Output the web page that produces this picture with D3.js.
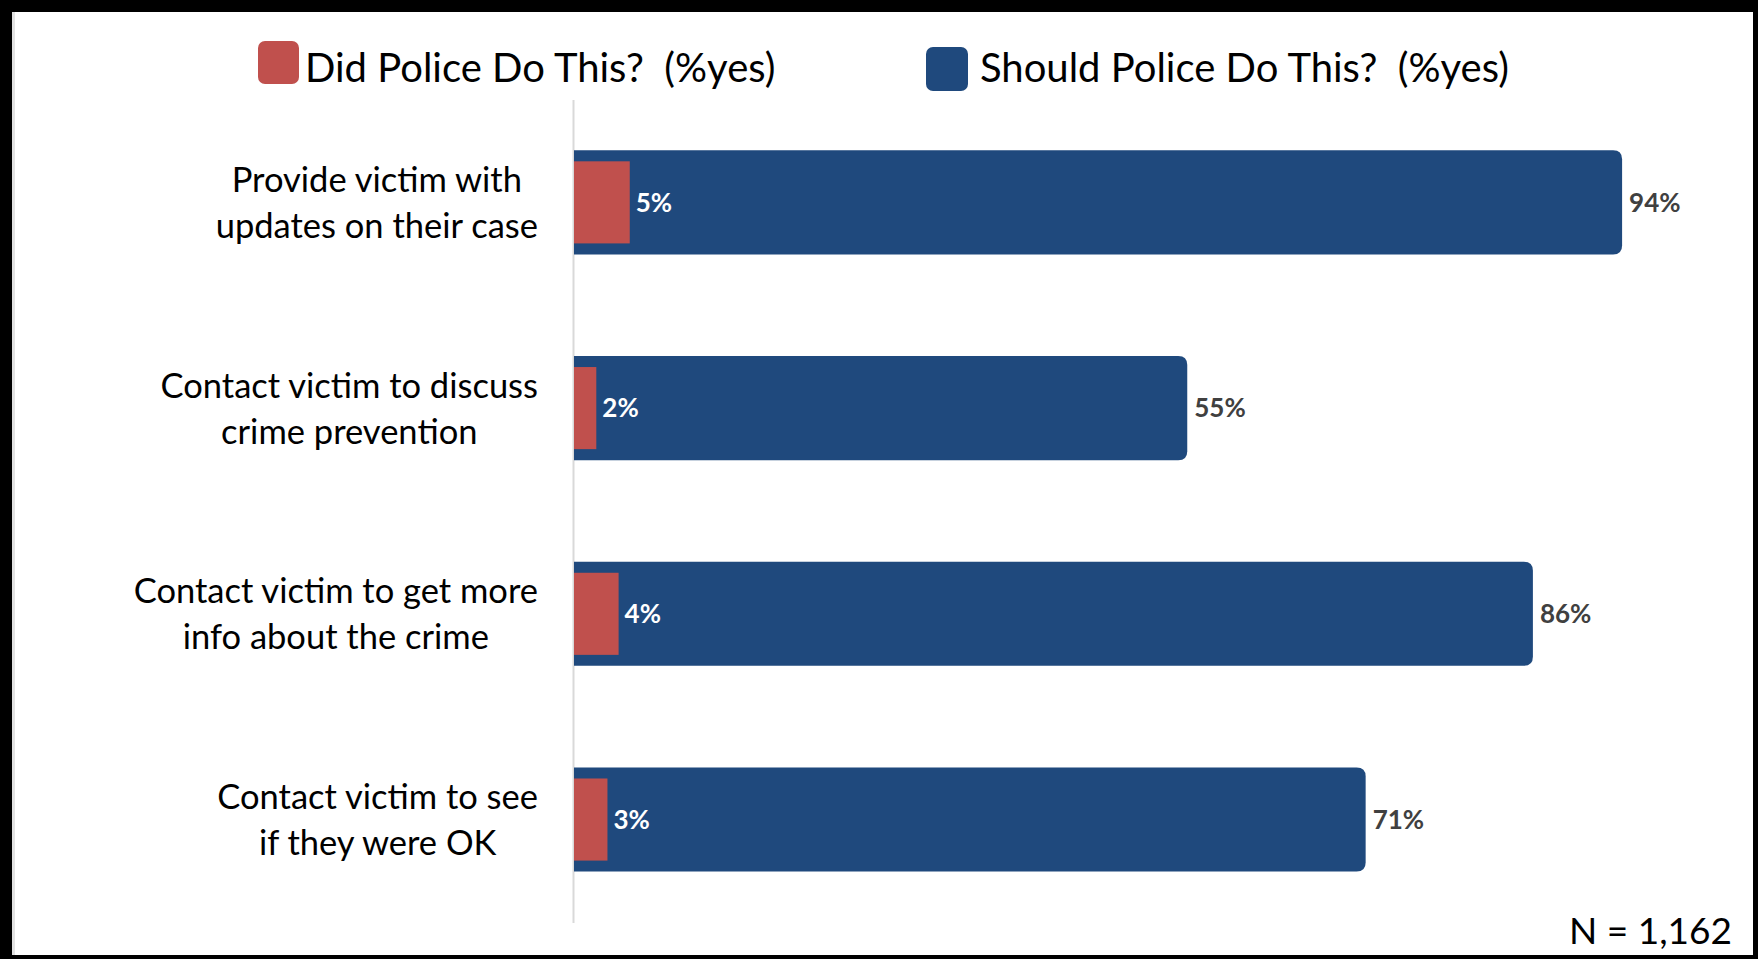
<!DOCTYPE html>
<html>
<head>
<meta charset="utf-8">
<script src="https://cdn.jsdelivr.net/npm/d3@7"></script>
<style>
  html, body { margin: 0; padding: 0; background: #000; }
  svg { display: block; }
  text { font-family: Lato, "Open Sans", sans-serif; white-space: pre; }
</style>
</head>
<body>
<svg id="chart" width="1758" height="959"></svg>
<script>
// Survey items (each label split into its two display lines)
const categories = [
  ["Provide victim with", "updates on their case"],
  ["Contact victim to discuss", "crime prevention"],
  ["Contact victim to get more", "info about the crime"],
  ["Contact victim to see", "if they were OK"]
];
const didValues = [5, 2, 4, 3];          // Did Police Do This? (%yes)
const shouldValues = [94, 55, 86, 71];   // Should Police Do This? (%yes)
const seriesNames = ["Did Police Do This?  (%yes)", "Should Police Do This?  (%yes)"];
const sampleNote = "N = 1,162";

const colors = { did: "#C0504D", should: "#1F497D" };

const svg = d3.select("#chart");
const W = 1758, H = 959;

// black frame with white panel
svg.append("rect").attr("width", W).attr("height", H).attr("fill", "#000");
svg.append("rect").attr("x", 12).attr("y", 12).attr("width", 1741).attr("height", 943)
  .attr("fill", "#fff");
svg.append("rect").attr("x", 12).attr("y", 12).attr("width", 3).attr("height", 943)
  .attr("fill", "#e2e2e2");

const x = d3.scaleLinear().domain([0, 100]).range([574, 1689]);
const y = d3.scaleBand().domain(d3.range(categories.length))
  .range([99.5, 922.4]).paddingInner(0.494).paddingOuter(0.247);

// category axis: only the vertical line is shown
const axis = svg.append("g").attr("transform", "translate(573,0)")
  .call(d3.axisLeft(y).tickSize(0).tickFormat(""));
axis.select(".domain").attr("stroke", "#d9d9d9").attr("stroke-width", 2);

// rounded-right bar path
function rightRounded(x0, y0, w, h, r) {
  r = Math.min(r, w, h / 2);
  return `M${x0},${y0}H${x0 + w - r}Q${x0 + w},${y0} ${x0 + w},${y0 + r}` +
         `V${y0 + h - r}Q${x0 + w},${y0 + h} ${x0 + w - r},${y0 + h}H${x0}Z`;
}

const bw = y.bandwidth();
const inset = 11;

// Should bars
svg.append("g").selectAll("path").data(shouldValues).join("path")
  .attr("d", (d, i) => rightRounded(x(0), y(i), x(d) - x(0), bw, 9))
  .attr("fill", colors.should);

// Did bars (inside the Should bars)
svg.append("g").selectAll("rect").data(didValues).join("rect")
  .attr("x", x(0)).attr("y", (d, i) => y(i) + inset)
  .attr("width", d => x(d) - x(0)).attr("height", bw - 2 * inset)
  .attr("fill", colors.did);

// value labels
svg.append("g").selectAll("text").data(didValues).join("text")
  .attr("x", d => x(d) + 6).attr("y", (d, i) => y(i) + bw / 2)
  .attr("dy", "0.36em")
  .attr("fill", "#fff").attr("font-weight", 700).attr("font-size", 26)
  .text(d => d + "%");

svg.append("g").selectAll("text").data(shouldValues).join("text")
  .attr("x", d => x(d) + 7).attr("y", (d, i) => y(i) + bw / 2)
  .attr("dy", "0.36em")
  .attr("fill", "#404040").attr("font-weight", 700).attr("font-size", 26)
  .text(d => d + "%");

// category labels: lines centred within a block that is right-aligned at the axis
const labelRight = 538, lineGap = 46, labelSize = 34.5;
categories.forEach((lines, i) => {
  const g = svg.append("g");
  const t = g.selectAll("text").data(lines).join("text")
    .attr("font-size", labelSize).attr("fill", "#000")
    .attr("text-anchor", "middle")
    .attr("y", (d, j) => y(i) + bw / 2 + (j - (lines.length - 1) / 2) * lineGap)
    .attr("dy", "0.36em")
    .text(d => d);
  const maxW = d3.max(t.nodes(), n => n.getComputedTextLength());
  t.attr("x", labelRight - maxW / 2);
});

// legend
const legend = [
  { name: seriesNames[0], color: colors.did, sx: 258, sy: 41, sw: 41, sh: 43, tx: 305 },
  { name: seriesNames[1], color: colors.should, sx: 926, sy: 47, sw: 42, sh: 44, tx: 980 }
];
const lg = svg.append("g");
legend.forEach(l => {
  lg.append("rect").attr("x", l.sx).attr("y", l.sy).attr("width", l.sw).attr("height", l.sh)
    .attr("rx", 7).attr("fill", l.color);
  lg.append("text").attr("x", l.tx).attr("y", 82).attr("font-size", 40)
    .attr("fill", "#000").text(l.name);
});

// sample size
svg.append("text").attr("x", 1732).attr("y", 944).attr("text-anchor", "end")
  .attr("font-size", 37).attr("fill", "#000").text(sampleNote);
</script>
</body>
</html>
